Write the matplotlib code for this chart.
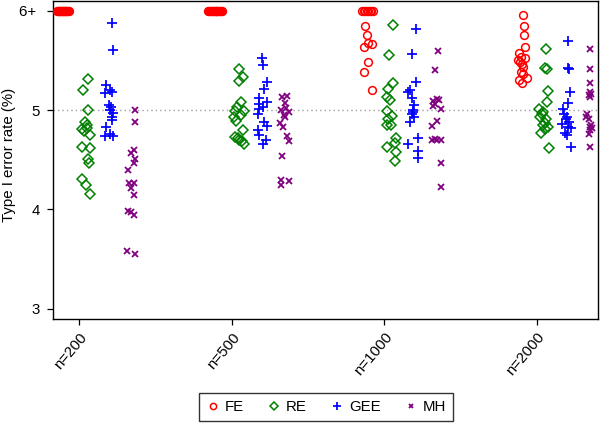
import matplotlib
matplotlib.use("Agg")
import matplotlib.pyplot as plt
from matplotlib.lines import Line2D

plt.rcParams['font.family'] = ['Liberation Sans', 'DejaVu Sans']

groups = ["n=200", "n=500", "n=1000", "n=2000"]
methods = ["FE", "RE", "GEE", "MH"]

# Type I error rate (%) per sample-size group; values >= 6 are shown as "6+" (capped at 6)
fe_vals = [
    [6.0] * 16,
    [6.0] * 16,
    [6.0] * 8 + [5.85, 5.76, 5.68, 5.64, 5.67, 5.49, 5.38, 5.20],
    [5.96, 5.85, 5.76, 5.64, 5.58, 5.54, 5.53, 5.51, 5.47, 5.44, 5.38, 5.36, 5.32, 5.30, 5.27, 5.49],
]
re_vals = [
    [5.31, 5.20, 5.00, 4.88, 4.81, 4.82, 4.79, 4.75, 4.63, 4.62, 4.51, 4.47, 4.31, 4.25, 4.16, 4.85],
    [5.42, 5.33, 5.29, 5.08, 5.03, 4.99, 4.99, 4.93, 4.89, 4.80, 4.73, 4.70, 4.66, 4.69, 4.95, 4.72],
    [5.86, 5.56, 5.27, 5.21, 5.13, 5.10, 4.99, 4.94, 4.91, 4.85, 4.85, 4.72, 4.63, 4.67, 4.58, 4.49],
    [5.62, 5.43, 5.42, 5.19, 5.08, 5.01, 4.98, 4.93, 4.91, 4.85, 4.83, 4.81, 4.77, 4.62, 4.87, 4.96],
]
gee_vals = [
    [5.88, 5.61, 5.25, 5.20, 5.17, 5.18, 5.03, 5.00, 4.97, 4.93, 4.90, 4.83, 4.74, 4.76, 4.74, 5.05],
    [5.53, 5.46, 5.28, 5.21, 5.12, 5.08, 5.06, 5.01, 4.96, 4.88, 4.84, 4.80, 4.75, 4.70, 4.66, 5.03],
    [5.82, 5.57, 5.28, 5.20, 5.18, 5.12, 5.00, 4.96, 4.93, 4.88, 4.72, 4.66, 4.59, 4.52, 4.98, 5.05],
    [5.70, 5.43, 5.42, 5.18, 5.07, 5.01, 4.96, 4.91, 4.86, 4.88, 4.83, 4.82, 4.77, 4.75, 4.63, 4.93],
]
mh_vals = [
    [5.00, 4.88, 4.60, 4.57, 4.51, 4.47, 4.40, 4.27, 4.27, 4.22, 4.15, 3.98, 3.97, 3.94, 3.58, 3.55],
    [5.13, 5.14, 5.07, 5.00, 4.98, 4.93, 4.87, 4.83, 4.74, 4.69, 4.54, 4.30, 4.29, 4.25, 5.02, 4.95],
    [5.60, 5.41, 5.11, 5.09, 5.06, 5.04, 5.01, 5.10, 4.89, 4.84, 4.70, 4.70, 4.70, 4.47, 4.23, 4.71],
    [5.62, 5.42, 5.27, 5.18, 5.15, 5.13, 4.96, 4.93, 4.91, 4.83, 4.80, 4.76, 4.63, 5.16, 4.82, 4.85],
]

# horizontal jitter of each point (pixels)
fe_jit = [
    [-6, -5, -4, -3, -2, -1, 0, 1, 2, 3, 4, 5, 6, -4, 2, -1],
    [-7, -5, -4, -2, -1, 0, 1, 2, 3, 4, 5, 6, 7, -3, 1, -6],
    [-6, -4, -3, -1, 0, 2, 3, 5, -3, -1, 0, -4, 4, 0, -4, 4],
    [2, 3, 3, 4, -2, 0, 4, -3, 1, 2, 0, 2, 6, -2, 1, -1],
]
re_jit = [
    [2, -3, 2, -1, -4, 1, -2, 4, -4, 4, 2, 3, -4, 0, 4, 1],
    [0, 4, 0, 2, -2, 5, -4, -5, -3, 4, -4, 0, 5, 3, 2, -1],
    [2, -2, 2, -3, -4, -1, -4, 1, -3, -4, 0, 5, -4, 4, 5, 4],
    [2, 1, 3, 4, 3, -5, -1, -4, 2, -1, 4, 1, -3, 5, 1, -2],
]
gee_jit = [
    [3, 4, -3, 1, -4, 3, 2, 1, 4, 3, 3, -3, -4, 1, 4, 0],
    [0, 1, 5, 2, -3, 5, -3, -3, -4, 2, 5, -4, -3, 4, 1, 1],
    [2, -2, 2, -4, -6, -2, -1, -2, 0, -4, 4, -6, 4, 4, -1, 0],
    [1, 1, 2, 3, 1, -4, -3, -1, -5, 2, 1, 4, -2, 0, 4, 0],
]
mh_jit = [
    [3, 3, 2, -1, 3, 2, -4, -3, 2, -1, 2, -4, -1, 2, -5, 3],
    [-3, 2, 0, -4, 4, 0, -5, -2, 2, 4, -3, -4, 4, -4, 1, -1],
    [1, -2, 0, -4, -2, -4, 4, 2, 0, -5, -5, 0, 4, 4, 4, -2],
    [0, 0, 0, 0, -1, 0, -3, -4, -1, 0, 0, -1, 0, 1, 2, 1],
]

ytick_vals = [3, 4, 5, 6]
ytick_labels = ["3", "4", "5", "6+ "]

series = [
    (fe_vals, fe_jit, dict(marker='o', ms=5.6, mew=1.1, mfc='none', mec='#ff0000', color='#ff0000')),
    (re_vals, re_jit, dict(marker='D', ms=5.4, mew=1.1, mfc='none', mec='#008000', color='#008000')),
    (gee_vals, gee_jit, dict(marker='+', ms=7.2, mew=1.25, mec='#0000ff', color='#0000ff')),
    (mh_vals, mh_jit, dict(marker='x', ms=4.4, mew=1.3, mec='#800080', color='#800080')),
]
offsets = [-0.105, 0.046, 0.197, 0.348]   # method position relative to group tick
px = 152.5                                 # pixels per x unit

fig = plt.figure(figsize=(6.0, 4.23), dpi=100)
ax = fig.add_axes([0.0888, 0.2459, 0.9079, 0.7529])

ax.axhline(5, color='#a0a0a0', lw=1.0, ls=(0, (1, 2.2)), zorder=1)

handles = []
for (vals, jit, st), off, name in zip(series, offsets, methods):
    for g in range(len(groups)):
        xs = [g + off + j / px for j in jit[g]]
        ax.plot(xs, vals[g], ls='none', zorder=3, **st)
    handles.append(Line2D([], [], ls='none', label=name, **{**st, 'ms': st['ms'] * 0.8}))

ax.set_xlim(-0.1685, 3.403)
ax.set_ylim(2.897, 6.105)
ax.set_xticks(range(len(groups)))
ax.set_xticklabels(groups, rotation=50, ha='right', va='top', rotation_mode='anchor', fontsize=10.8)
ax.set_yticks(ytick_vals)
ax.set_yticklabels(ytick_labels, fontsize=10.8)
ax.tick_params(axis='both', direction='out', length=4.5, width=0.9, color='black')
ax.tick_params(axis='y', pad=5)
ax.tick_params(axis='x', pad=3.5)
ax.set_ylabel("Type I error rate (%)", fontsize=10.8)
ax.yaxis.set_label_coords(-0.069, 0.515)
for s in ax.spines.values():
    s.set_linewidth(1.0)
    s.set_color('black')

leg = fig.legend(handles=handles, loc='center', bbox_to_anchor=(0.543, 0.038), ncol=4,
                 frameon=True, fancybox=False, edgecolor='black', fontsize=10.8,
                 handletextpad=0.3, columnspacing=1.5, borderpad=0.45, handlelength=1.0)
leg.get_frame().set_linewidth(1.0)

fig.savefig("out.png", dpi=100)
